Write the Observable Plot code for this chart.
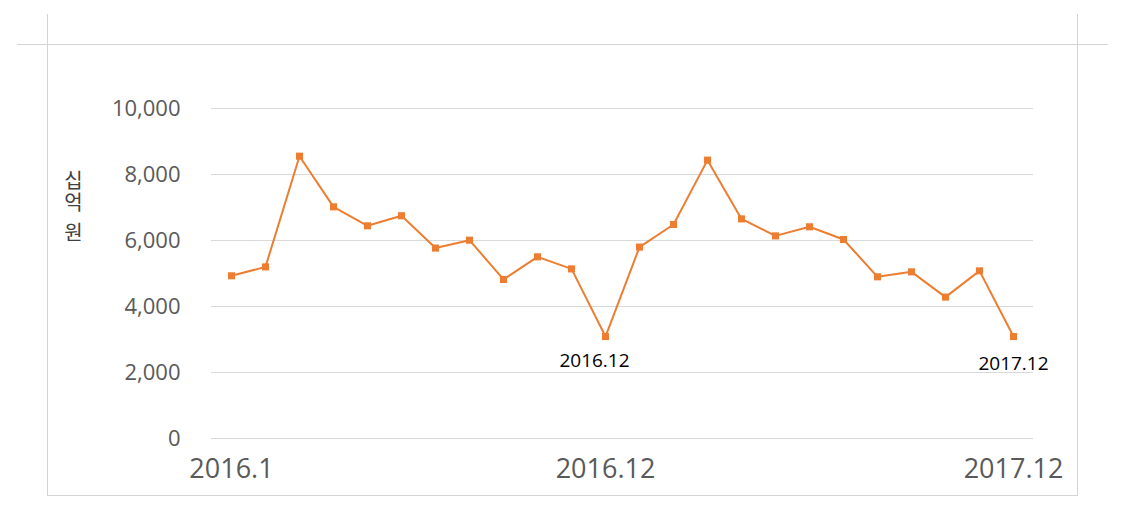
<!DOCTYPE html>
<html>
<head>
<meta charset="utf-8">
<script src="https://cdn.jsdelivr.net/npm/d3@7"></script>
<script src="https://cdn.jsdelivr.net/npm/@observablehq/plot@0.6"></script>
<style>
  html, body { margin: 0; padding: 0; background: #fff; }
  #wrap { position: relative; width: 1131px; height: 508px; overflow: hidden; }
  .ln { position: absolute; background: #d4d4d4; }
  #ylab { position: absolute; left: 73px; top: 207px; transform: translate(-50%, -50%);
          writing-mode: vertical-rl; text-orientation: upright; line-height: 1;
          letter-spacing: 2px;
          font-family: "Noto Sans CJK KR", sans-serif; font-size: 20px; color: #404040; white-space: nowrap; }
  #ylab .sp { font-size: 8px; letter-spacing: 0; }
</style>
</head>
<body>
<div id="wrap">
  <div class="ln" style="left:17px; top:44px; width:1091px; height:1px;"></div>
  <div class="ln" style="left:47px; top:14px; width:1px; height:482px;"></div>
  <div class="ln" style="left:1077px; top:14px; width:1px; height:482px;"></div>
  <div class="ln" style="left:47px; top:495px; width:1031px; height:1px;"></div>
  <div id="chart" style="position:absolute; left:0; top:0;"></div>
  <div id="ylab"></div>
</div>
<script>
const months = [
  "2016.1","2016.2","2016.3","2016.4","2016.5","2016.6","2016.7","2016.8","2016.9","2016.10","2016.11","2016.12",
  "2017.1","2017.2","2017.3","2017.4","2017.5","2017.6","2017.7","2017.8","2017.9","2017.10","2017.11","2017.12"
];
const values = [
  4930, 5200, 8555, 7020, 6445, 6750, 5770, 6010, 4820, 5505, 5140, 3090,
  5800, 6485, 8435, 6655, 6140, 6415, 6030, 4900, 5050, 4285, 5080, 3090
];
const xTickLabels = ["2016.1", "2016.12", "2017.12"];
const yTicks = [0, 2000, 4000, 6000, 8000, 10000];
const annotations = ["2016.12", "2017.12"];
const yLabelWords = ["십억", "원"];

const ylab = document.getElementById("ylab");
yLabelWords.forEach((w, i) => {
  if (i > 0) { const s = document.createElement("span"); s.className = "sp"; s.textContent = " "; ylab.appendChild(s); }
  const t = document.createElement("span"); t.textContent = w; ylab.appendChild(t);
});

const data = months.map((m, i) => ({month: m, value: values[i]}));
const ann1 = data.filter(d => d.month === annotations[0]);
const ann2 = data.filter(d => d.month === annotations[1]);

const color = "#ED7D31";
const chart = Plot.plot({
  width: 1131,
  height: 508,
  marginTop: 108,
  marginBottom: 70,
  marginLeft: 211,
  marginRight: 98,
  style: {fontFamily: "'Open Sans', sans-serif", background: "transparent"},
  x: {type: "point", domain: months, padding: 0.5},
  y: {domain: [0, 10000]},
  marks: [
    Plot.ruleY(yTicks, {stroke: "#d9d9d9", strokeWidth: 1}),
    Plot.axisY({ticks: yTicks, tickFormat: d3.format(","), tickSize: 0, tickPadding: 31,
                fontSize: 22, fill: "#595959", label: null}),
    Plot.axisX({ticks: xTickLabels, tickSize: 0, tickPadding: 20, fontSize: 27,
                fill: "#595959", label: null}),
    Plot.line(data, {x: "month", y: "value", stroke: color, strokeWidth: 2}),
    Plot.dot(data, {x: "month", y: "value", symbol: "square", r: 4, fill: color, stroke: "none"}),
    Plot.text(ann1, {x: "month", y: "value", text: "month", fontSize: 19, fill: "#000", dx: -11, dy: 24}),
    Plot.text(ann2, {x: "month", y: "value", text: "month", fontSize: 19, fill: "#000", dx: 0, dy: 27})
  ]
});
document.getElementById("chart").appendChild(chart);
</script>
</body>
</html>
